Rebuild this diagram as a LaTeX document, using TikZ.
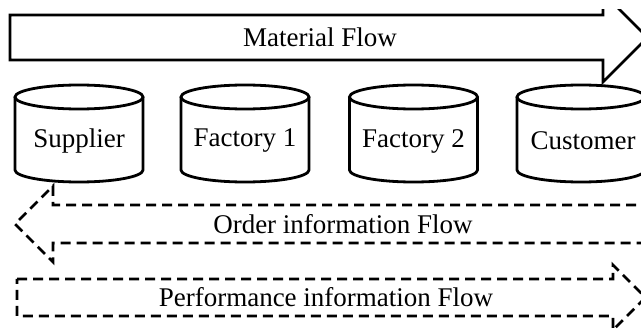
\documentclass[tikz,border=0pt]{standalone}
\usepackage{fontspec}
\setmainfont{Liberation Serif}
\begin{document}
\begin{tikzpicture}[x=1pt,y=1pt,
  lbl/.style={font=\fontsize{27}{31}\selectfont, inner sep=0pt},
  solidline/.style={draw=black, line width=2.8pt, line join=miter},
  dashline/.style={draw=black, line width=2.8pt, dash pattern=on 10pt off 6pt, line join=miter},
  cylline/.style={draw=black, line width=2.8pt}]
\useasboundingbox (0,0) rectangle (641,335);
\begin{scope}
\clip (0,0) rectangle (641,325);
% Material flow arrow
\coordinate (mA) at (10,320);
\coordinate (mB) at (603,320);
\coordinate (mC) at (603,342);
\coordinate (mTip) at (647.5,297.5);
\coordinate (mD) at (603,253);
\coordinate (mE) at (603,275);
\coordinate (mF) at (10,275);
\draw[solidline] (mA) -- (mB) -- (mC) -- (mTip) -- (mD) -- (mE) -- (mF) -- cycle;
% Order information flow arrow (left)
\coordinate (oA) at (700,130);
\coordinate (oB) at (53,130);
\coordinate (oC) at (53,149);
\coordinate (oTip) at (15,111);
\coordinate (oD) at (53,73);
\coordinate (oE) at (53,92);
\coordinate (oF) at (700,92);
\draw[dashline] (oA) -- (oB) -- (oC) -- (oTip) -- (oD) -- (oE) -- (oF);
% Performance information flow arrow (right)
\coordinate (pA) at (17,56);
\coordinate (pB) at (613,56);
\coordinate (pC) at (613,70);
\coordinate (pTip) at (645.5,37.5);
\coordinate (pD) at (613,5);
\coordinate (pE) at (613,19);
\coordinate (pF) at (17,19);
\draw[dashline] (pA) -- (pB) -- (pC) -- (pTip) -- (pD) -- (pE) -- (pF) -- cycle;
% Cylinders
\foreach \cx in {79,245,413.5,581}{
  \draw[cylline] (\cx,238) ellipse [x radius=64, y radius=12];
  \draw[cylline] (\cx-64,238) -- (\cx-64,165)
     arc[start angle=180, end angle=360, x radius=64, y radius=12] -- (\cx+64,238);
}
\end{scope}
\node[lbl] (mat) at (320,297.5) {Material Flow};
\node[lbl] (sup) at (79,194) {Supplier};
\node[lbl] (fa1) at (245,194) {Factory 1};
\node[lbl] (fa2) at (413.5,194) {Factory 2};
\node[lbl] (cus) at (583,194) {Customer};
\node[lbl] (ord) at (343,111) {Order information Flow};
\node[lbl] (per) at (326,37.5) {Performance information Flow};
\end{tikzpicture}
\end{document}
